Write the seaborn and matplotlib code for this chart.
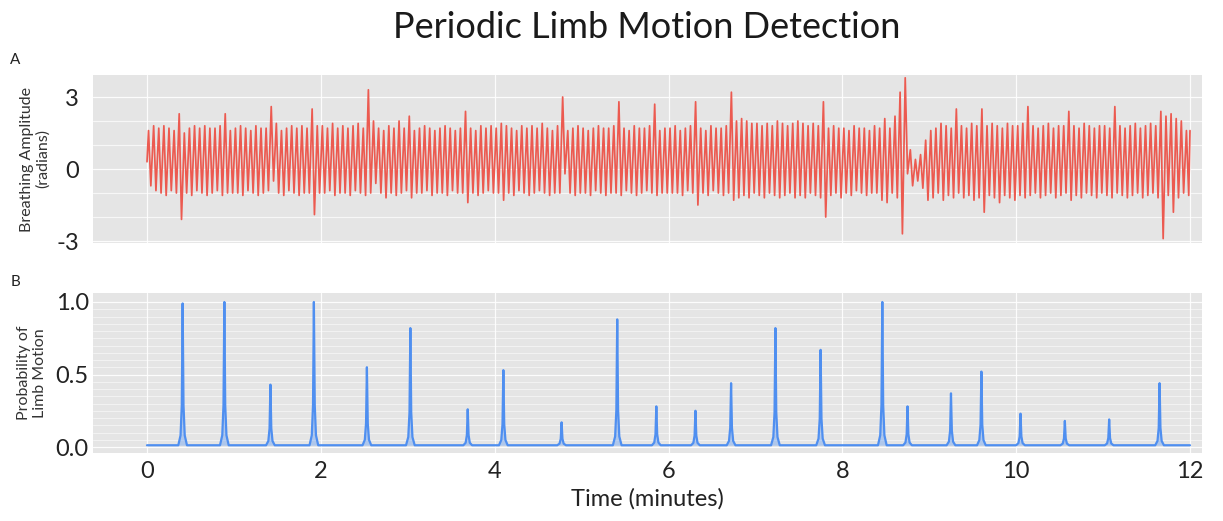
import numpy as np
import pandas as pd
import matplotlib
matplotlib.use("Agg")
import matplotlib.pyplot as plt
import seaborn as sns

# ---------------- data ----------------
# Breathing signal: one peak and one trough per breath, 17 breaths per minute, 12 minutes
breath_start = 0.3
breath_end = 1.6
breath_peaks = [
    1.6, 1.8, 1.7, 1.8, 1.7, 1.6, 2.3, 1.5, 1.7, 1.8, 1.7, 1.8, 1.7, 1.7, 1.8, 2.3, 1.6,
    1.7, 1.8, 1.7, 1.6, 1.8, 1.7, 1.7, 2.6, 1.9, 1.6, 1.7, 1.8, 1.7, 1.8, 1.7, 2.5, 1.8,
    1.8, 1.7, 1.9, 1.7, 1.8, 1.7, 1.8, 1.9, 1.7, 3.3, 2.0, 1.7, 1.6, 1.8, 1.7, 2.0, 1.7,
    2.2, 1.6, 1.7, 1.8, 1.7, 1.6, 1.7, 1.8, 1.7, 1.6, 1.7, 2.4, 1.7, 1.6, 1.8, 1.7, 1.8,
    1.7, 1.9, 1.8, 1.7, 1.6, 1.8, 1.7, 1.8, 1.7, 1.9, 1.7, 1.6, 1.8, 3.0, 1.6, 1.7, 1.8,
    1.7, 1.6, 1.7, 1.8, 1.7, 1.7, 1.8, 2.8, 1.7, 1.6, 1.8, 1.7, 1.7, 1.8, 2.7, 1.6, 1.7,
    1.7, 1.8, 1.6, 1.7, 1.8, 2.8, 1.7, 1.6, 1.8, 1.7, 1.7, 1.8, 3.2, 2.0, 2.1, 2.0, 1.9,
    1.9, 1.8, 1.9, 1.8, 2.0, 1.9, 1.8, 1.9, 2.0, 1.9, 1.8, 1.9, 1.8, 2.8, 1.7, 1.8, 1.7,
    1.7, 1.6, 1.8, 1.7, 1.7, 1.6, 1.8, 1.7, 2.1, 1.7, 2.2, 3.2, 3.8, 0.8, 0.4, 0.6, 1.2,
    1.6, 1.7, 1.9, 1.8, 1.7, 2.5, 1.8, 1.7, 1.9, 1.8, 2.5, 1.8, 1.9, 1.8, 1.7, 1.9, 1.8,
    1.8, 1.9, 2.6, 1.8, 1.7, 1.8, 1.9, 1.7, 1.8, 1.8, 2.4, 1.8, 1.7, 1.9, 1.8, 1.7, 1.8,
    1.8, 1.7, 2.6, 1.8, 1.7, 1.8, 1.9, 1.7, 1.8, 1.9, 1.8, 2.4, 2.2, 2.3, 2.1, 2.0, 1.6,
]
breath_troughs = [
    -0.7, -0.9, -1.0, -1.1, -0.9, -1.0, -2.1, -1.0, -1.1, -0.9, -1.0, -1.1, -1.0, -0.9, -1.1, -1.0, -1.0,
    -1.0, -1.1, -0.9, -1.0, -1.1, -1.0, -0.9, -0.5, -1.0, -1.1, -0.9, -1.0, -1.1, -1.0, -1.0, -1.9, -1.0,
    -1.0, -0.9, -1.1, -1.0, -1.0, -1.1, -0.9, -1.0, -1.1, -1.0, -0.6, -1.0, -1.2, -1.0, -1.1, -1.0, -0.9,
    -1.2, -1.0, -1.0, -0.9, -1.1, -1.0, -1.0, -1.1, -0.9, -1.0, -1.0, -1.4, -1.0, -1.1, -1.0, -0.9, -1.0,
    -1.0, -1.3, -1.0, -1.1, -0.9, -1.0, -1.1, -1.0, -0.9, -1.0, -1.1, -1.0, -1.0, -0.2, -1.0, -1.1, -1.0,
    -1.0, -1.1, -0.9, -1.0, -1.1, -1.0, -1.0, -1.1, -0.9, -1.0, -1.1, -1.0, -0.9, -1.0, -1.1, -1.0, -1.0,
    -1.0, -1.0, -1.1, -0.9, -1.0, -1.5, -1.0, -1.1, -0.9, -1.0, -1.1, -1.0, -1.3, -1.2, -1.1, -1.2, -1.0,
    -1.1, -1.2, -1.0, -1.1, -1.2, -1.1, -1.0, -1.2, -1.1, -1.2, -1.0, -1.1, -1.2, -2.0, -1.1, -1.0, -1.2,
    -1.0, -1.1, -0.9, -1.0, -1.1, -1.0, -1.0, -1.3, -1.4, -1.0, -1.2, -2.7, -0.2, -0.7, -0.5, -0.8, -1.3,
    -1.2, -1.0, -1.3, -1.1, -1.2, -1.0, -1.2, -1.1, -1.3, -1.2, -1.8, -1.1, -1.2, -1.4, -1.1, -1.2, -1.3,
    -1.1, -1.2, -1.1, -1.0, -1.2, -1.1, -1.0, -1.2, -1.1, -1.0, -1.3, -1.1, -1.2, -1.0, -1.1, -1.2, -1.0,
    -1.1, -1.2, -1.0, -1.1, -1.2, -1.1, -1.0, -1.2, -1.1, -1.0, -1.2, -2.9, -1.1, -1.8, -1.2, -1.0, -1.1,
]
recording_minutes = 12.0

# Limb-motion detections: time (minutes) and peak probability
limb_times = [0.41, 0.89, 1.42, 1.92, 2.53, 3.03, 3.69, 4.10, 4.77, 5.41, 5.86, 6.31,
              6.72, 7.23, 7.75, 8.46, 8.75, 9.25, 9.60, 10.05, 10.56, 11.07, 11.65]
limb_probs = [0.99, 1.00, 0.43, 1.00, 0.55, 0.82, 0.26, 0.53, 0.17, 0.88, 0.28, 0.25,
              0.44, 0.82, 0.67, 1.00, 0.28, 0.37, 0.52, 0.23, 0.18, 0.19, 0.44]
limb_baseline = 0.012

x_ticks = [0, 2, 4, 6, 8, 10, 12]
top_yticks = [-3, 0, 3]
top_ylabels = ["-3", "0", "3"]
bot_yticks = [0.0, 0.5, 1.0]
bot_ylabels = ["0.0", "0.5", "1.0"]

title = "Periodic Limb Motion Detection"
top_ylabel = "Breathing Amplitude\n(radians)"
bot_ylabel = "Probability of\nLimb Motion"
xlabel = "Time (minutes)"

# ---------------- build plotting tables ----------------
n = len(breath_peaks)
dt = recording_minutes / n
bt = [0.0]
bv = [breath_start]
for k in range(n):
    bt.append((k + 0.3) * dt)
    bv.append(breath_peaks[k])
    bt.append((k + 0.75) * dt)
    bv.append(breath_troughs[k])
bt.append(recording_minutes)
bv.append(breath_end)
breath_df = pd.DataFrame({"t": bt, "v": bv})

# spike outline: offsets (min) and fraction of spike height (style only)
sp_off = [-0.05, -0.024, -0.010, 0.0, 0.010, 0.024, 0.05]
sp_frac = [0.0, 0.07, 0.28, 1.0, 0.28, 0.07, 0.0]
lt = [0.0]
lv = [limb_baseline]
for t0, h in zip(limb_times, limb_probs):
    for o, f in zip(sp_off, sp_frac):
        lt.append(t0 + o)
        lv.append(limb_baseline + f * (h - limb_baseline))
lt.append(recording_minutes)
lv.append(limb_baseline)
limb_df = pd.DataFrame({"t": lt, "v": lv})

# ---------------- figure ----------------
sns.set_theme(style="darkgrid")
plt.rcParams["font.family"] = ["Lato", "DejaVu Sans"]
bg = "#e5e5e5"

fig = plt.figure(figsize=(12.23, 5.21), dpi=100)
W, H = 1223, 521
def rect(x0, y0, x1, y1):
    return [x0 / W, 1 - y1 / H, (x1 - x0) / W, (y1 - y0) / H]

ax1 = fig.add_axes(rect(93, 75, 1202, 243))
ax2 = fig.add_axes(rect(93, 293, 1202, 453))

px_per_min = (1190 - 147) / 12.0
xlim = (-(147 - 93) / px_per_min, 12 + (1202 - 1190) / px_per_min)

for ax in (ax1, ax2):
    ax.set_facecolor(bg)
    for s in ax.spines.values():
        s.set_visible(False)
    ax.set_xlim(*xlim)
    ax.set_xticks(x_ticks)
    ax.tick_params(length=0)
    ax.grid(True, which="major", color="white", linewidth=0.9, alpha=0.9)

sns.lineplot(data=breath_df, x="t", y="v", ax=ax1, color="#ec5a50",
             linewidth=1.25, estimator=None, sort=False)
sns.lineplot(data=limb_df, x="t", y="v", ax=ax2, color="#4f8ff0",
             linewidth=1.6, estimator=None, sort=False)
ax2.fill_between(limb_df["t"], limb_baseline, limb_df["v"], color="#6ea3f3",
                 alpha=0.45, linewidth=0)

# top panel axes
ax1.set_ylim(-3 - 2 / 24, 3 + 22 / 24)
ax1.set_yticks(top_yticks)
ax1.set_yticklabels(top_ylabels, fontsize=17)
ax1.set_yticks([-2, -1, 1, 2], minor=True)
ax1.grid(True, which="minor", axis="y", color="white", linewidth=0.8, alpha=0.7)
ax1.set_xticklabels([])
ax1.set_xlabel("")
ax1.set_ylabel(top_ylabel, fontsize=11.5, color="#333333", linespacing=1.15)
ax1.yaxis.set_label_coords(-43 / 1109, 0.5)
ax1.tick_params(axis="y", pad=10, labelcolor="#222222")

# bottom panel axes
ax2.set_ylim(-6 / 145, 1 + 9 / 145)
ax2.set_yticks(bot_yticks)
ax2.set_yticklabels(bot_ylabels, fontsize=17)
ax2.set_yticks(np.arange(0.05, 1.05, 0.05), minor=True)
ax2.grid(True, which="minor", axis="y", color="white", linewidth=0.6, alpha=0.6)
ax2.set_xticklabels([str(v) for v in x_ticks], fontsize=17)
ax2.tick_params(axis="y", pad=3, labelcolor="#222222")
ax2.tick_params(axis="x", pad=6, labelcolor="#222222")
ax2.set_xlabel(xlabel, fontsize=17, color="#222222", labelpad=4)
ax2.set_ylabel(bot_ylabel, fontsize=11.5, color="#333333", linespacing=1.15)
ax2.yaxis.set_label_coords(-46 / 1109, 0.5)

fig.text(647 / W, 1 - 27 / H, title, ha="center", va="center", fontsize=26, color="#1a1a1a")
fig.text(15 / W, 1 - 60 / H, "A", ha="center", va="center", fontsize=11, color="#222222")
fig.text(15 / W, 1 - 282 / H, "B", ha="center", va="center", fontsize=11, color="#222222")

fig.savefig("out.png", dpi=100)
